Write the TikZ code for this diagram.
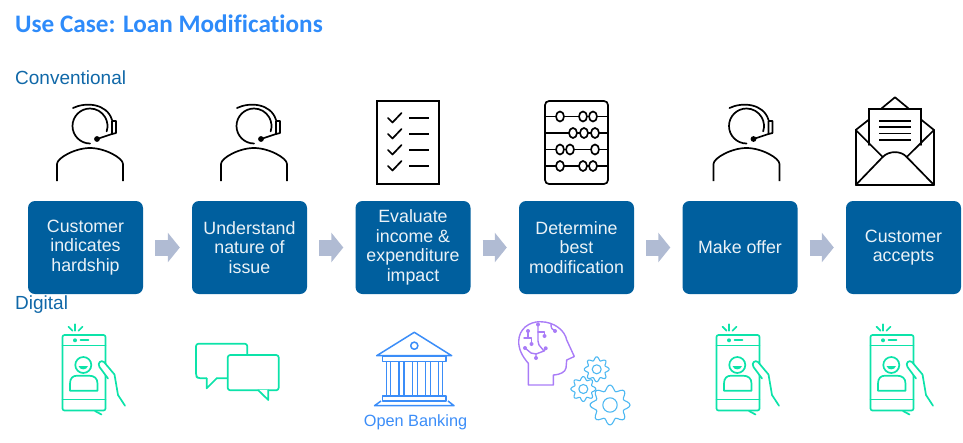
\documentclass[tikz,border=0pt]{standalone}
\usepackage{fontspec}
\setmainfont{Liberation Sans}
\newfontfamily\titlefont[Ligatures=NoCommon]{Carlito}
\usetikzlibrary{arrows.meta}
\definecolor{boxblue}{HTML}{005F9E}
\definecolor{headblue}{HTML}{1068A8}
\definecolor{titleblue}{HTML}{2E8BFA}
\definecolor{arrowgrey}{HTML}{B0BBD3}
\definecolor{mint}{HTML}{0CE3A9}
\definecolor{bankblue}{HTML}{3B8DF8}
\definecolor{brainpurple}{HTML}{A97CF7}
\definecolor{gearblue}{HTML}{4DB8F2}
\tikzset{
  x=1pt,y=-1pt,
  stepbox/.style={fill=boxblue,rounded corners=7pt,minimum width=115pt,minimum height=93pt,inner sep=0pt,
    text=white!92!boxblue,align=center,font=\fontsize{17.8}{19.6}\selectfont},
  flow/.style={draw=arrowgrey,line width=16pt,shorten <=12pt,shorten >=12pt,
    -{Triangle[length=12pt,width=29pt]}},
  head/.style={text=headblue,anchor=west,inner sep=0pt,font=\fontsize{19}{22}\selectfont},
  ink/.style={draw=black,line width=1.7pt,line cap=round,line join=round},
  minty/.style={draw=mint,line width=1.7pt,line join=round,line cap=round},
  bankline/.style={draw=bankblue,line width=1.5pt,line join=round},
  brain/.style={draw=brainpurple,line width=1.4pt,line join=round,line cap=round},
  geary/.style={draw=gearblue,line width=1.1pt,line join=round},
  person/.pic={
    \draw[ink] (0,143.5) arc[start angle=90,end angle=378,radius=17.5];
    \draw[ink] (-17,108) .. controls (-5,102) and (17,103) .. (22,120);
    \draw[ink] (22,121) -- (26,121) -- (26,133) -- (22,134) -- cycle;
    \draw[ink] (7,139) -- (22,134);
    \fill (7,139) circle[radius=2.9];
    \draw[ink,line cap=butt] (-33,181) -- (-33,164) .. controls (-33,158) and (-15,148) .. (0,148) .. controls (15,148) and (33,158) .. (33,164) -- (33,181);
  },
  phone/.pic={
    \draw[minty,rounded corners=2pt] (-21.5,335) rectangle (21.5,410.5);
    \draw[minty] (-21.5,345.5) -- (21.5,345.5) (-21.5,399.5) -- (21.5,399.5);
    \fill[mint] (-9,340.3) circle[radius=2];
    \draw[minty] (-3.5,340.3) -- (4.5,340.3);
    \draw[minty] (-15.5,326.7) -- (-11.5,330.7) (-9,324.3) -- (-9,330.7) (-1.5,326.7) -- (-5.5,330.7);
    \draw[minty] (-0.7,365) circle[radius=8];
    \fill[mint] (-5.5,366) .. controls (-4,370.5) and (2.5,370.5) .. (4,366) -- cycle;
    \draw[minty] (-14,390.7) -- (-14,383.5) .. controls (-14,378) and (-11,375.7) .. (-7,375.7) -- (5,375.7) .. controls (10,375.7) and (13.5,378) .. (13.5,383.5) -- (13.5,390.7) -- cycle;
    \draw[minty,fill=white] (24,378.5) -- (15.5,367) .. controls (13,363) and (17,359.5) .. (20,362) -- (30.5,374.5) -- (34,395) -- (41,405.7);
    \draw[minty] (11,411) -- (17.5,414.5);
  },
  gear/.pic={
    \draw[geary] plot[smooth cycle,samples=65,domain=0:355] (\x:{#1*(.86+.14*cos(8*\x))});
    \draw[geary] (0,0) circle[radius=#1*.36];
  }
}
\begin{document}
\begin{tikzpicture}
\useasboundingbox (0,0) rectangle (963,442);
\node[anchor=west,inner sep=0pt,text=titleblue,font=\titlefont\fontsize{25.2}{28}\selectfont\bfseries] (title) at (15,24) {Use Case: Loan Modifications};
\node[head] (conv) at (15,78) {Conventional};
\node[head] (digi) at (15,305) {Digital};

\node[stepbox] (s1) at (85.5,247.5) {Customer\\indicates\\hardship};
\node[stepbox] (s2) at (249.5,247.5) {Understand\\nature of\\issue};
\node[stepbox] (s3) at (413,247.5) {Evaluate\\income \&\\expenditure\\impact};
\node[stepbox] (s4) at (576.5,247.5) {Determine\\best\\modification};
\node[stepbox] (s5) at (740,247.5) {Make offer};
\node[stepbox] (s6) at (903.5,247.5) {Customer\\accepts};
\foreach \a/\b in {s1/s2,s2/s3,s3/s4,s4/s5,s5/s6} \draw[flow] (\a) -- (\b);

\pic at (90,0) {person};
\pic at (254,0) {person};
\pic at (746.5,0) {person};

% checklist
\draw[ink,line cap=butt,line join=miter] (377,101) rectangle (438.7,184);
\foreach \y in {118,134,150,166}{
  \draw[ink] (388,\y) -- (392.5,\y+4.5) -- (401.5,\y-5);
  \draw[ink,line cap=butt] (409,\y) -- (429,\y);
}
% abacus
\draw[ink,rounded corners=4pt] (545,101) rectangle (608,184);
\foreach \y/\l in {116.5/{560,583,593},133/{573,584,595},149.5/{560,570,595},166/{560,583,593}}{
  \draw[ink,line cap=butt] (545,\y) -- (608,\y);
  \foreach \b in \l \draw[ink,fill=white] (\b,\y) ellipse[x radius=4,y radius=5];
}
% envelope
\draw[ink] (855.7,130) -- (855.7,185) -- (934,185) -- (934,130);
\draw[ink] (855.7,130) -- (869.3,119.3) (881.7,108.3) -- (895,97.3) -- (908.3,108.3) (920.7,119.3) -- (934,130);
\draw[ink,line join=miter] (869.3,145) -- (869.3,109.3) -- (920.7,109.3) -- (920.7,145);
\foreach \y in {120.7,127.3,133.5,140} \draw[ink,line cap=butt] (879.3,\y) -- (910.7,\y);
\draw[ink] (855.7,130) -- (882.7,157) (934,130) -- (906.7,157);
\draw[ink] (855.7,185) -- (882.7,157) .. controls (889,150.5) and (901,150.5) .. (906.7,157) -- (934,185);

\pic at (84,0) {phone};
\pic at (738,0) {phone};
\pic at (892,0) {phone};

% chat bubbles
\draw[minty,rounded corners=2.5pt] (206.7,378.3) -- (198,378.3) -- (196,376) -- (196,343.7) -- (247.3,343.7) -- (247.3,378.3) -- (216.7,378.3);
\draw[minty] (206.7,378.3) -- (206.7,388.3) -- (216.7,378.3);
\draw[minty,fill=white,rounded corners=2.5pt] (227.7,355) rectangle (278.7,390.3);
\draw[minty,fill=white] (258.3,390.3) -- (268.3,400) -- (268.3,390.3);
\draw[white,line width=1.4pt] (259.8,390.3) -- (267.3,390.3);

% bank
\draw[bankline] (414.3,332.3) -- (376.7,355.7) -- (451.7,355.7) -- cycle;
\draw[bankline] (414.3,345.7) circle[radius=3.6];
\draw[bankline] (382.7,356) rectangle (446,361.7);
\foreach \a/\b in {386.7/390.7,399/404,412.3/417.3,425.7/430.7,438.3/442.3}
  \draw[bankline] (\a,361.7) rectangle (\b,396);
\draw[bankline] (382.7,396) rectangle (446,401);
\draw[bankline] (381,401) -- (374.5,405.7) -- (454,405.7) -- (448,401);
\node[text=bankblue,inner sep=0pt,font=\fontsize{16.3}{18}\selectfont] (ob) at (415.5,422.5) {Open Banking};

% head with circuit
\draw[brain] (528.3,385) -- (528.3,363.3) .. controls (522,356) and (518.5,349) .. (518.7,341) .. controls (519,329) and (529,321.7) .. (540,321.7) .. controls (555,321.7) and (565,331) .. (566.7,340) -- (574.3,356.5) -- (566.7,360) -- (566,368) .. controls (565,372) and (561,374.5) .. (553.3,375) -- (553.3,385) -- cycle;
\draw[brain] (528,331) -- (528,338) (524,338) -- (531.5,338) -- (531.5,344);
\draw[brain] (538,324.5) -- (538,341) -- (539,345) -- (544,351) -- (536,354) -- (536,358);
\draw[brain] (538,332) -- (544.5,332) -- (544.5,336);
\draw[brain] (525,348) -- (531,353) -- (536,354);
\draw[brain] (544,351) -- (545.7,348.3);
\draw[brain] (551,324) .. controls (551,328) and (552,330) .. (555,331);
\foreach \p in {(528,331),(531.5,344),(538,324.5),(544.5,336),(525,348),(536,358),(545.7,348.3),(555,331)}
  \fill[brainpurple] \p circle[radius=2];
% gears
\pic at (596.7,369.3) {gear=12.5};
\pic at (583.3,389) {gear=12.5};
\pic at (610,405) {gear=20};
\end{tikzpicture}
\end{document}
